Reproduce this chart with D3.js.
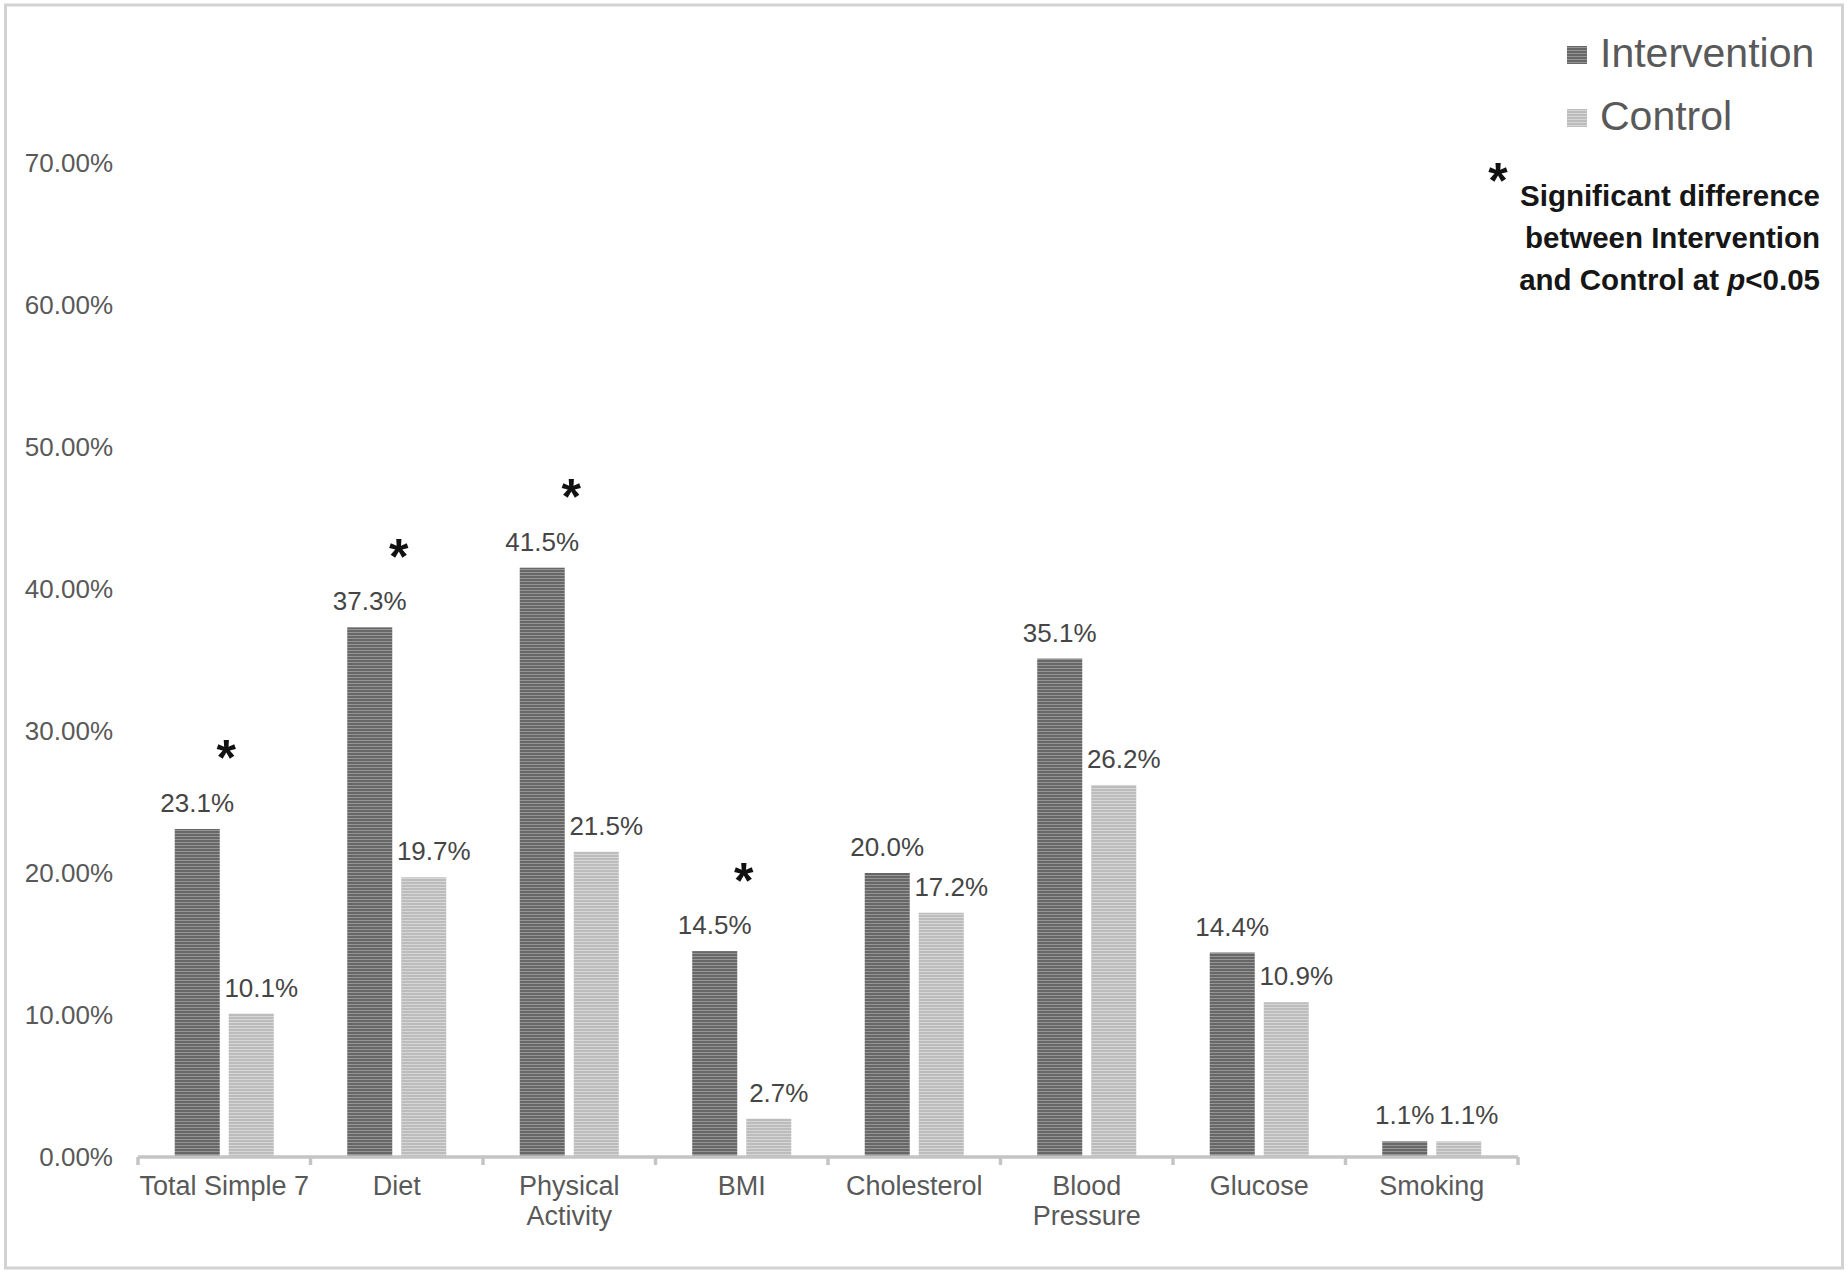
<!DOCTYPE html>
<html>
<head>
<meta charset="utf-8">
<script src="https://cdn.jsdelivr.net/npm/d3@7"></script>
<style>
  html, body { margin: 0; padding: 0; background: #fff; }
  svg { display: block; font-family: "Liberation Sans", Arial, sans-serif; }
</style>
</head>
<body>
<svg id="chart" width="1848" height="1278"></svg>
<script>
const categories = ["Total Simple 7", "Diet", "Physical Activity", "BMI", "Cholesterol", "Blood Pressure", "Glucose", "Smoking"];
const seriesNames = ["Intervention", "Control"];
const intervention = [23.1, 37.3, 41.5, 14.5, 20.0, 35.1, 14.4, 1.1];
const control = [10.1, 19.7, 21.5, 2.7, 17.2, 26.2, 10.9, 1.1];
const significant = [true, true, true, true, false, false, false, false];
const yTicks = [0, 10, 20, 30, 40, 50, 60, 70];
const noteLines = ["Significant difference", "between Intervention", "and Control at "];

const svg = d3.select("#chart");

// outer frame
svg.append("rect").attr("x", 5.5).attr("y", 5).attr("width", 1837).attr("height", 1263)
  .attr("fill", "#fff").attr("stroke", "#d2d2d2").attr("stroke-width", 3);

// patterns
const defs = svg.append("defs");
function stripe(id, base, line) {
  const p = defs.append("pattern").attr("id", id).attr("patternUnits", "userSpaceOnUse")
    .attr("width", 8).attr("height", 3);
  p.append("rect").attr("width", 8).attr("height", 3).attr("fill", base);
  p.append("rect").attr("y", 2).attr("width", 8).attr("height", 1).attr("fill", line);
}
stripe("pInt", "#676767", "#959595");
stripe("pCtl", "#bcbcbc", "#d6d6d6");
const fills = { Intervention: "url(#pInt)", Control: "url(#pCtl)" };
const labelShift = { Intervention: 0, Control: 10 };

const x0 = d3.scaleBand().domain(categories).range([138, 1518]).paddingInner(0).paddingOuter(0);
const x1 = d3.scaleBand().domain(seriesNames).range([0, x0.bandwidth()]).paddingInner(1/6).paddingOuter(0.68);
const y = d3.scaleLinear().domain([0, 70]).range([1157, 163]);

const data = categories.map((c, i) => ({ cat: c, i, vals: [
  { s: "Intervention", v: intervention[i] },
  { s: "Control", v: control[i] }
]}));

// y axis labels
const yAxis = d3.axisLeft(y).tickValues(yTicks).tickSize(0).tickPadding(0)
  .tickFormat(d => d3.format(".2f")(d) + "%");
const ya = svg.append("g").attr("transform", "translate(113,0)").call(yAxis);
ya.select(".domain").remove();
ya.selectAll("text").attr("font-size", 26).attr("fill", "#595959")
  .attr("font-family", "'Liberation Sans', Arial, sans-serif");

// bars
const groups = svg.append("g").selectAll("g").data(data).join("g")
  .attr("transform", d => `translate(${x0(d.cat)},0)`);
groups.selectAll("rect").data(d => d.vals).join("rect")
  .attr("x", d => x1(d.s)).attr("width", x1.bandwidth())
  .attr("y", d => y(d.v)).attr("height", d => y(0) - y(d.v))
  .attr("fill", d => fills[d.s]);

// x axis
const xAxis = d3.axisBottom(x0).tickSize(0).tickFormat("");
const xa = svg.append("g").attr("transform", `translate(0,${y(0)})`).call(xAxis);
xa.select(".domain").attr("stroke", "#c4c4c4").attr("stroke-width", 3.5)
  .attr("d", `M${x0.range()[0]},0H${x0.range()[1]}`);
const bounds = categories.map(c => x0(c)).concat([x0.range()[1]]);
xa.selectAll(".bnd").data(bounds).join("line").attr("class", "bnd")
  .attr("x1", d => d).attr("x2", d => d).attr("y1", 0).attr("y2", 8)
  .attr("stroke", "#c4c4c4").attr("stroke-width", 3.5);

// category labels with wrapping
const catG = svg.append("g");
categories.forEach(c => {
  const cx = x0(c) + x0.bandwidth() / 2;
  const t = catG.append("text").attr("x", cx).attr("y", 1195).attr("text-anchor", "middle")
    .attr("font-size", 27).attr("fill", "#595959").text(c);
  if (t.node().getComputedTextLength() > x0.bandwidth() + 6) {
    const words = c.split(" ");
    t.text(null);
    words.forEach((w, k) => t.append("tspan").attr("x", cx).attr("dy", k === 0 ? 0 : 30).text(w));
  }
});

// value labels and significance marks
const lblG = svg.append("g");
data.forEach(d => {
  d.vals.forEach(v => {
    const cx = x0(d.cat) + x1(v.s) + x1.bandwidth() / 2 + labelShift[v.s];
    lblG.append("text").attr("x", cx).attr("y", y(v.v) - 17).attr("text-anchor", "middle")
      .attr("font-size", 26).attr("fill", "#454545").text(d3.format(".1f")(v.v) + "%");
  });
  if (significant[d.i]) {
    const cx = x0(d.cat) + x0.bandwidth() / 2 + 2;
    const base = y(d.vals[0].v) - 17;
    const fs = 50;
    lblG.append("text").attr("x", cx).attr("y", base - 65 + 0.57 * fs).attr("text-anchor", "middle")
      .attr("font-size", fs).attr("font-weight", "bold").attr("fill", "#111").text("*");
  }
});

// legend
const leg = svg.append("g");
seriesNames.forEach((s, k) => {
  const yy = 46 + k * 63;
  leg.append("rect").attr("x", 1567).attr("y", yy).attr("width", 20).attr("height", 18).attr("fill", fills[s]);
  leg.append("text").attr("x", 1600).attr("y", yy + 21).attr("font-size", 41).attr("fill", "#595959").text(s);
});
leg.append("text").attr("x", 1498).attr("y", 169 + 0.57 * 50).attr("text-anchor", "middle")
  .attr("font-size", 50).attr("font-weight", "bold").attr("fill", "#111").text("*");
noteLines.forEach((line, k) => {
  const t = leg.append("text").attr("x", 1820).attr("y", 206 + k * 42).attr("text-anchor", "end")
    .attr("font-size", 29.5).attr("font-weight", "bold").attr("fill", "#161616").text(line);
  if (k === noteLines.length - 1) {
    t.append("tspan").attr("font-style", "italic").text("p");
    t.append("tspan").text("<0.05");
  }
});
</script>
</body>
</html>
